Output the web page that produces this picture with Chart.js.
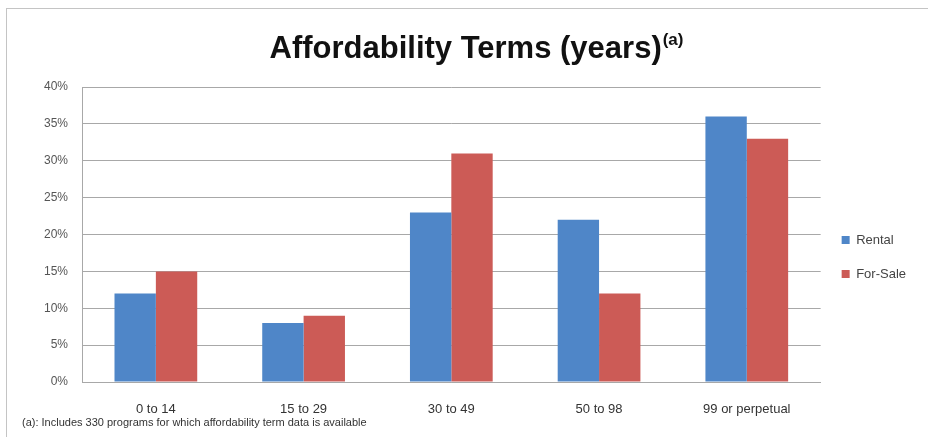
<!DOCTYPE html>
<html>
<head>
<meta charset="utf-8">
<script src="https://cdn.jsdelivr.net/npm/chart.js@4"></script>
<style>
  html, body { margin: 0; padding: 0; background: #fff; }
  #wrap { width: 928px; height: 437px; }
</style>
</head>
<body>
<div id="wrap"><canvas id="termsChart" width="928" height="437"></canvas></div>
<script>
const categorias = ['0 to 14', '15 to 29', '30 to 49', '50 to 98', '99 or perpetual'];
const rental = [12, 8, 23, 22, 36];
const forSale = [15, 9, 31, 12, 33];
const yTicks = [0, 5, 10, 15, 20, 25, 30, 35, 40];

const titulo = 'Affordability Terms (years)';
const nota = '(a): Includes 330 programs for which affordability term data is available';

// titulo con superindice, nota al pie y marco
const decoracion = {
    id: 'decoracion',
    afterDraw(chart) {
        const ctx = chart.ctx;
        ctx.save();
        ctx.strokeStyle = '#c4c4c4';
        ctx.lineWidth = 1;
        ctx.strokeRect(6.5, 8.5, 940, 440);

        ctx.fillStyle = '#111';
        ctx.textBaseline = 'alphabetic';
        ctx.font = 'bold 31px "Liberation Sans Narrow", "Liberation Sans", Arial, sans-serif';
        const w1 = ctx.measureText(titulo).width;
        ctx.font = 'bold 17px "Liberation Sans Narrow", "Liberation Sans", Arial, sans-serif';
        const w2 = ctx.measureText('(a)').width;
        const x0 = 476 - (w1 + w2) / 2;
        ctx.font = 'bold 31px "Liberation Sans Narrow", "Liberation Sans", Arial, sans-serif';
        ctx.fillText(titulo, x0, 58);
        ctx.font = 'bold 17px "Liberation Sans Narrow", "Liberation Sans", Arial, sans-serif';
        ctx.fillText('(a)', x0 + w1 + 1, 45);

        ctx.fillStyle = '#333';
        ctx.font = '11px "Liberation Sans", Arial, sans-serif';
        ctx.fillText(nota, 22, 426);
        ctx.restore();
    }
};

new Chart(document.getElementById('termsChart'), {
    type: 'bar',
    data: {
        labels: categorias,
        datasets: [
            { label: 'Rental', data: rental, backgroundColor: '#4f86c8' },
            { label: 'For-Sale', data: forSale, backgroundColor: '#cc5b56' }
        ]
    },
    options: {
        responsive: false,
        animation: false,
        layout: { padding: { top: 87, left: 10, right: 12, bottom: 10 } },
        datasets: { bar: { categoryPercentage: 0.56, barPercentage: 1 } },
        plugins: {
            title: { display: false },
            tooltip: { enabled: false },
            legend: {
                position: 'right',
                labels: {
                    boxWidth: 8,
                    boxHeight: 8,
                    padding: 21,
                    color: '#444',
                    font: { family: '"Liberation Sans", Arial, sans-serif', size: 13 }
                }
            }
        },
        scales: {
            x: {
                grid: { display: false },
                border: { color: '#a8a8a8', width: 1 },
                ticks: {
                    color: '#333',
                    padding: 12,
                    font: { family: '"Liberation Sans", Arial, sans-serif', size: 13 }
                },
                afterFit: s => { s.height = 45; }
            },
            y: {
                min: 0,
                max: 40,
                afterBuildTicks: s => { s.ticks = yTicks.map(v => ({ value: v })); },
                grid: { color: '#a8a8a8', drawTicks: false },
                border: { color: '#a8a8a8', width: 1 },
                ticks: {
                    color: '#555',
                    padding: 14,
                    font: { family: '"Liberation Sans", Arial, sans-serif', size: 12 },
                    callback: v => v + '%'
                },
                afterFit: s => { s.width = 72; }
            }
        }
    },
    plugins: [decoracion]
});
</script>
</body>
</html>
